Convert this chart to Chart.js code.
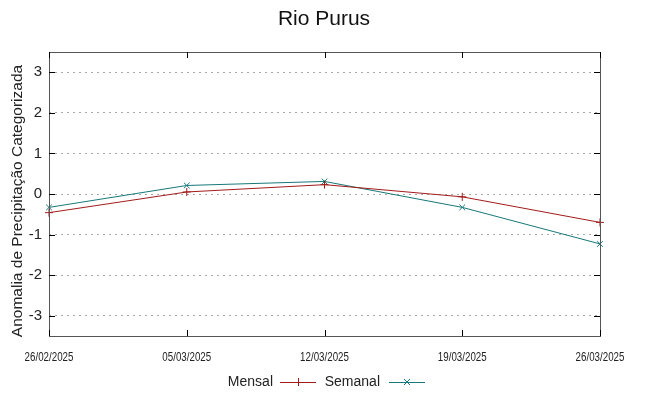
<!DOCTYPE html>
<html>
<head>
<meta charset="utf-8">
<script src="https://cdn.jsdelivr.net/npm/chart.js@4.4.1/dist/chart.umd.min.js"></script>
<style>
  html,body{margin:0;padding:0;background:#fff;}
  #wrap{width:648px;height:396px;}
</style>
</head>
<body>
<div id="wrap"><canvas id="chart" width="648" height="396"></canvas></div>
<script>
const TITLE = "Rio Purus";
const Y_LABEL = "Anomalia de Precipitação Categorizada";
const dates = ["26/02/2025","05/03/2025","12/03/2025","19/03/2025","26/03/2025"];
const mensal = [-0.46, 0.05, 0.23, -0.07, -0.70];
const semanal = [-0.33, 0.21, 0.31, -0.33, -1.23];
const yTicks = [-3,-2,-1,0,1,2,3];

const RED = '#a31a1a', TEAL = '#17787a';

// frame, mirrored tick marks, narrow date labels, title, y label and legend (gnuplot look)
const decor = {
  id: 'decor',
  afterDraw(c){
    const ctx = c.ctx, a = c.chartArea, x = c.scales.x, y = c.scales.y;
    ctx.save();
    ctx.strokeStyle = '#555';
    ctx.lineWidth = 1;
    ctx.strokeRect(Math.round(a.left)+0.5, Math.round(a.top)+0.5, Math.round(a.right-a.left), Math.round(a.bottom-a.top));
    ctx.strokeStyle = '#000';
    ctx.beginPath();
    yTicks.forEach(v=>{
      const py = Math.round(y.getPixelForValue(v))+0.5;
      ctx.moveTo(a.left, py); ctx.lineTo(a.left+6, py);
      ctx.moveTo(a.right, py); ctx.lineTo(a.right-6, py);
    });
    dates.forEach((d,i)=>{
      const px = Math.round(x.getPixelForValue(i))+0.5;
      ctx.moveTo(px, a.bottom); ctx.lineTo(px, a.bottom-6);
      ctx.moveTo(px, a.top); ctx.lineTo(px, a.top+6);
    });
    ctx.stroke();

    ctx.fillStyle = '#222';
    ctx.textAlign = 'center'; ctx.textBaseline = 'middle';
    // gnuplot uses a narrow face for the dates; squeeze a regular one
    ctx.font = '13px "Liberation Sans", Arial, sans-serif';
    dates.forEach((d,i)=>{
      ctx.save();
      ctx.translate(x.getPixelForValue(i), a.bottom + 21);
      ctx.scale(0.75, 1);
      ctx.fillText(d, 0, 0);
      ctx.restore();
    });

    ctx.fillStyle = '#111';
    ctx.font = '21px "Liberation Sans", Arial, sans-serif';
    ctx.fillText(TITLE, 324, 19);

    ctx.save();
    ctx.translate(18, 201);
    ctx.rotate(-Math.PI/2);
    ctx.font = '15.5px "Liberation Sans", Arial, sans-serif';
    ctx.fillStyle = '#222';
    ctx.fillText(Y_LABEL, 0, 0);
    ctx.restore();

    // legend
    const ly = 382;
    ctx.font = '14px "Liberation Sans", Arial, sans-serif';
    ctx.textAlign = 'right';
    const items = [[c.data.datasets[0], 273, 280], [c.data.datasets[1], 380, 389]];
    items.forEach(([ds, tx, lx])=>{
      ctx.fillStyle = '#222';
      ctx.fillText(ds.label, tx, ly);
      ctx.strokeStyle = ds.borderColor; ctx.lineWidth = 1;
      ctx.beginPath(); ctx.moveTo(lx, ly+0.5); ctx.lineTo(lx+36, ly+0.5); ctx.stroke();
      const mx = lx+18;
      ctx.beginPath();
      if (ds.pointStyle === 'cross') {
        ctx.moveTo(mx-4, ly+0.5); ctx.lineTo(mx+4, ly+0.5);
        ctx.moveTo(mx+0.5, ly-4); ctx.lineTo(mx+0.5, ly+4);
      } else {
        ctx.moveTo(mx-3, ly-3); ctx.lineTo(mx+3, ly+3);
        ctx.moveTo(mx-3, ly+3); ctx.lineTo(mx+3, ly-3);
      }
      ctx.stroke();
    });
    ctx.restore();
  }
};

new Chart(document.getElementById('chart').getContext('2d'), {
  type: 'line',
  data: {
    labels: dates,
    datasets: [
      {label:'Mensal', data: mensal, borderColor: RED, backgroundColor: RED, borderWidth: 1,
       pointStyle:'cross', pointRadius:4, pointBorderWidth:1, tension:0, fill:false},
      {label:'Semanal', data: semanal, borderColor: TEAL, backgroundColor: TEAL, borderWidth: 1,
       pointStyle:'crossRot', pointRadius:4, pointBorderWidth:1, tension:0, fill:false}
    ]
  },
  options: {
    responsive: false,
    animation: false,
    layout: { padding: { top: 52, right: 48, left: 0, bottom: 0 } },
    plugins: { legend: { display: false }, title: { display: false }, tooltip: { enabled: false } },
    scales: {
      x: {
        type: 'category',
        offset: false,
        grid: { display: false, drawTicks: false },
        border: { display: false },
        ticks: { display: false },
        afterFit: s => { s.height = 60; }
      },
      y: {
        min: -3.5, max: 3.5,
        afterBuildTicks: s => { s.ticks = yTicks.map(v => ({ value: v })); },
        grid: { color: '#a8a8a8', lineWidth: 1, drawTicks: false },
        border: { display: false, dash: [2, 4] },
        ticks: { color: '#222', padding: 7,
                 font: { family: '"Liberation Sans", Arial, sans-serif', size: 15 } },
        afterFit: s => { s.width = 49; }
      }
    }
  },
  plugins: [decor]
});
</script>
</body>
</html>
